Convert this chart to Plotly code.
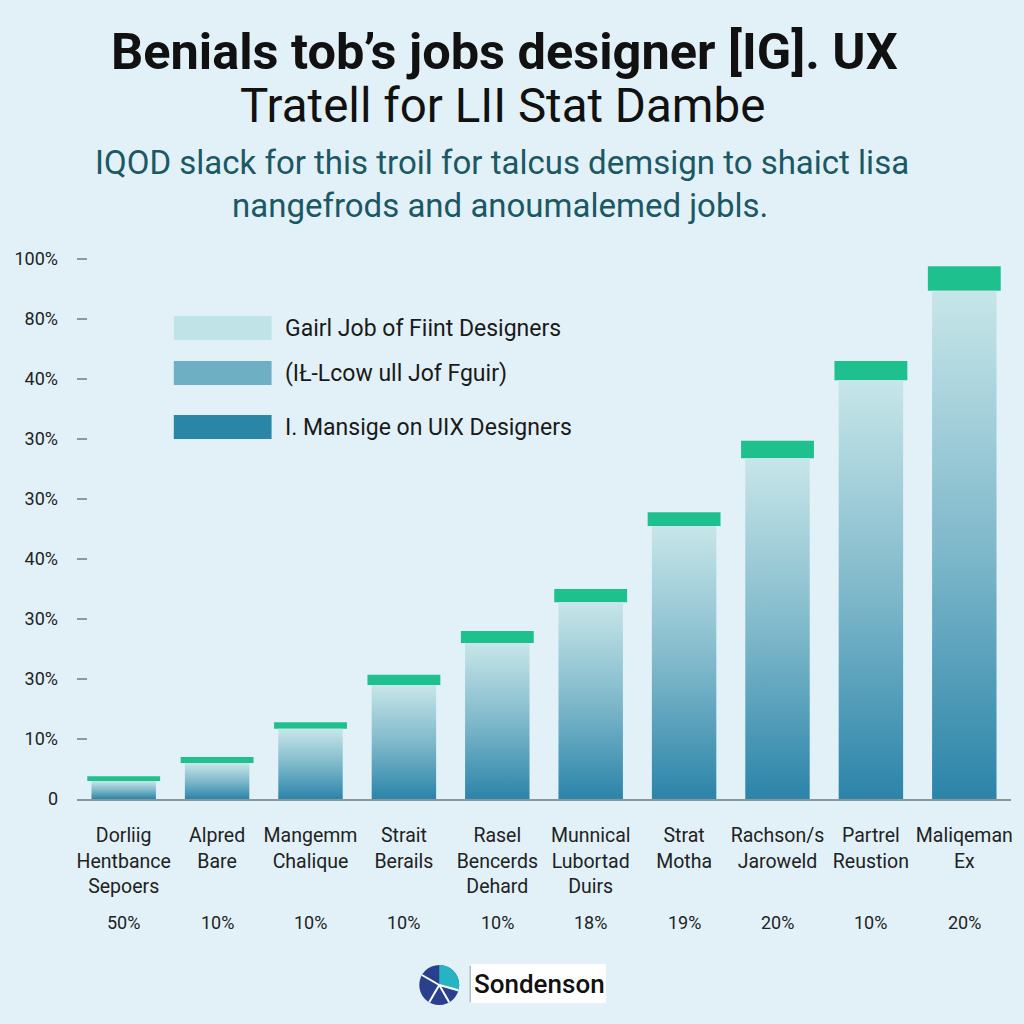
import math
import plotly.graph_objects as go

# ---- data ----
categories = ['Dorliig<br>Hentbance<br>Sepoers', 'Alpred<br>Bare', 'Mangemm<br>Chalique',
              'Strait<br>Berails', 'Rasel<br>Bencerds<br>Dehard', 'Munnical<br>Lubortad<br>Duirs',
              'Strat<br>Motha', 'Rachson/s<br>Jaroweld', 'Partrel<br>Reustion', 'Maliqeman<br>Ex']
bar_values = [0.30, 0.60, 1.17, 1.90, 2.60, 3.28, 4.55, 5.68, 6.98, 8.47]
cap_tops = [0.38, 0.70, 1.28, 2.07, 2.80, 3.50, 4.78, 5.97, 7.30, 8.88]
share_labels = ['50%', '10%', '10%', '10%', '10%', '18%', '19%', '20%', '10%', '20%']
y_tickvals = [0, 1, 2, 3, 4, 5, 6, 7, 8, 9]
y_ticktext = ['0', '10%', '30%', '30%', '40%', '30%', '30%', '40%', '80%', '100%']
legend_names = ['Gairl Job of Fiint Designers', '(IŁ-Lcow ull Jof Fguir)', 'I. Mansige on UIX Designers']
legend_colors = ['#bfe3e6', '#6eafc4', '#2a86a7']

FONT = 'Roboto, sans-serif'
BG = '#e1f1f7'

# plot area in pixels (for placing decorations)
L, R, T, B = 77, 11, 229, 225
W = 1024 - L - R
H = 1024 - T - B


def px(x):
    return (x - L) / W


def py(y):
    return (1024 - B - y) / H


fig = go.Figure()

# gradient bar bodies
for i, v in enumerate(bar_values):
    fig.add_trace(go.Scatter(
        x=[i - 0.345, i - 0.345, i + 0.345, i + 0.345, i - 0.345],
        y=[0, v, v, 0, 0],
        mode='lines', fill='toself', line=dict(width=0),
        fillgradient=dict(type='vertical', start=0, stop=v,
                          colorscale=[[0, '#2b84a9'], [0.5, '#80b9cb'], [1, '#c7e6e9']]),
        showlegend=False, hoverinfo='skip'))

# green caps
fig.add_trace(go.Bar(
    x=list(range(len(bar_values))),
    y=[c - v for c, v in zip(cap_tops, bar_values)],
    base=bar_values, width=0.78,
    marker=dict(color='#1ec08e', line=dict(width=0)),
    showlegend=False, hoverinfo='skip'))

shapes = []
annotations = []

# legend swatches
for name, col, yc in zip(legend_names, legend_colors, [328, 373, 427]):
    shapes.append(dict(type='rect', xref='paper', yref='paper', x0=px(174), x1=px(272),
                       y0=py(yc + 12), y1=py(yc - 12), fillcolor=col, line=dict(width=0)))
    annotations.append(dict(xref='paper', yref='paper', x=px(283), y=py(yc), text=name,
                            showarrow=False, xanchor='left', yanchor='middle',
                            font=dict(family=FONT, size=23, color='#1a1a1a')))

# share row under the labels
for i, s in enumerate(share_labels):
    annotations.append(dict(xref='x', yref='paper', x=i, y=py(922), text=s, showarrow=False,
                            xanchor='center', yanchor='middle',
                            font=dict(family=FONT, size=18, color='#222')))

# titles
annotations += [
    dict(xref='paper', yref='paper', x=px(505), y=py(52), text='<b>Benials tob’s jobs designer [IG]. UX</b>',
         showarrow=False, xanchor='center', yanchor='middle', font=dict(family=FONT, size=50.5, color='#111')),
    dict(xref='paper', yref='paper', x=px(503), y=py(106), text='Tratell for LII Stat Dambe',
         showarrow=False, xanchor='center', yanchor='middle', font=dict(family=FONT, size=47.5, color='#111')),
    dict(xref='paper', yref='paper', x=px(503), y=py(162),
         text='IQOD slack for this troil for talcus demsign to shaict lisa',
         showarrow=False, xanchor='center', yanchor='middle', font=dict(family=FONT, size=33, color='#1c5864')),
    dict(xref='paper', yref='paper', x=px(501), y=py(205), text='nangefrods and anoumalemed jobls.',
         showarrow=False, xanchor='center', yanchor='middle', font=dict(family=FONT, size=33, color='#1c5864')),
]

# logo
cx, cy, r = 440, 985, 20
shapes.append(dict(type='circle', xref='paper', yref='paper', x0=px(cx - r), x1=px(cx + r),
                   y0=py(cy + r), y1=py(cy - r), fillcolor='#2b3f8f', line=dict(width=0)))
pts = [(cx, cy)]
for k in range(13):
    a = math.radians(-90 + k * 110 / 12)
    pts.append((cx + r * math.cos(a), cy + r * math.sin(a)))
path = 'M ' + ' L '.join(f'{px(x):.5f},{py(y):.5f}' for x, y in pts) + ' Z'
shapes.append(dict(type='path', xref='paper', yref='paper', path=path, fillcolor='#27b3c2', line=dict(width=0)))
for ang in [-150, 15, 60, 120]:
    a = math.radians(ang)
    shapes.append(dict(type='line', xref='paper', yref='paper', x0=px(cx), y0=py(cy),
                       x1=px(cx + r * math.cos(a)), y1=py(cy + r * math.sin(a)),
                       line=dict(color='white', width=2)))
shapes.append(dict(type='rect', xref='paper', yref='paper', x0=px(472), x1=px(607),
                   y0=py(1003), y1=py(964), fillcolor='white', line=dict(width=0)))
shapes.append(dict(type='line', xref='paper', yref='paper', x0=px(471), x1=px(471),
                   y0=py(1002), y1=py(966), line=dict(color='#9aa4a8', width=1)))
annotations.append(dict(xref='paper', yref='paper', x=px(540), y=py(984), text='Sondenson',
                        showarrow=False, xanchor='center', yanchor='middle',
                        font=dict(family=FONT, size=26, weight=500, color='#111')))

fig.update_layout(
    width=1024, height=1024,
    margin=dict(l=L, r=R, t=T, b=B),
    paper_bgcolor=BG, plot_bgcolor=BG,
    showlegend=False,
    shapes=shapes, annotations=annotations,
    font=dict(family=FONT, color='#222'),
)
fig.update_xaxes(range=[-0.5, 9.5], tickvals=list(range(len(categories))), ticktext=categories,
                 showgrid=False, zeroline=False, showline=True, linecolor='#8c979b', linewidth=1.5,
                 ticks='', ticklabelstandoff=18, tickfont=dict(family=FONT, size=19.5, color='#222'))
fig.update_yaxes(range=[0, 9.5], tickvals=y_tickvals, ticktext=y_ticktext,
                 showgrid=False, zeroline=False, showline=False,
                 ticks='inside', ticklen=10, tickwidth=1.5, tickcolor='#8f989c',
                 ticklabelstandoff=18, tickfont=dict(family=FONT, size=18, color='#222'))

fig.write_html('out.html', config={'displayModeBar': False},
               post_script="document.body.style.margin='0';")
